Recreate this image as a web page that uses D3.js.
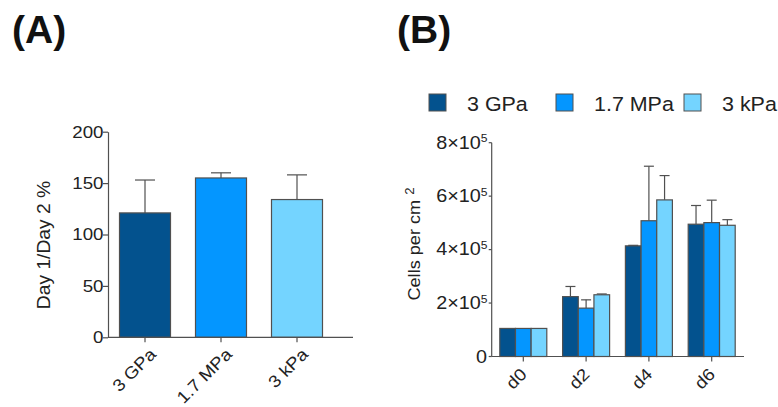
<!DOCTYPE html>
<html>
<head>
<meta charset="utf-8">
<script src="https://cdn.jsdelivr.net/npm/d3@7"></script>
<style>
  body { margin: 0; background: #fff; }
  text { font-family: "Liberation Sans", Arial, sans-serif; fill: #222; }
</style>
</head>
<body>
<div id="chart"></div>
<script>
// Panel A data
var stiffness = ["3 GPa", "1.7 MPa", "3 kPa"];
var ratioMean = [121, 155, 134];
var ratioErr = [153, 160, 158];
var ratioTicks = [0, 50, 100, 150, 200];

// Panel B data
var days = ["d0", "d2", "d4", "d6"];
var cells3GPa = [105000, 224000, 414000, 495000];
var cells17MPa = [105000, 181000, 508000, 501000];
var cells3kPa = [105000, 231000, 586000, 491000];
var err3GPa = [105000, 262000, 416000, 565000];
var err17MPa = [105000, 212000, 712000, 585000];
var err3kPa = [105000, 234000, 677000, 512000];
var cellTicks = [0, 200000, 400000, 600000, 800000];

var colors = ["#03528e", "#0496ff", "#74d4ff"];
var stroke = "#505050";
var WIDE = 1.1; // the original font is a bit wider than Arial

var svg = d3.select("#chart").append("svg")
    .attr("width", 778)
    .attr("height", 407);

// text helper: position, rotate, then widen glyphs in their own frame
function label(g, x, y, rot, size, anchor, txt) {
  return g.append("text")
      .attr("transform", "translate(" + x + "," + y + ") rotate(" + rot + ") scale(" + WIDE + ",1)")
      .attr("text-anchor", anchor)
      .style("font-size", size + "px")
      .text(txt);
}

// ---- Panel A ----
svg.append("text")
    .attr("x", 12).attr("y", 43)
    .style("font-size", "39px").style("font-weight", "bold").style("fill", "#111")
    .text("(A)");

var yA = d3.scaleLinear().domain([0, 200]).range([337.3, 131.7]);
var xA = d3.scalePoint().domain(stiffness).range([145, 297]);
var barA = 51;

var gA = svg.append("g");

gA.append("g")
    .attr("transform", "translate(108,0)")
    .call(d3.axisLeft(yA).tickValues(ratioTicks).tickSize(5).tickSizeOuter(0))
    .call(function(g) {
      g.selectAll("line, path").attr("stroke", stroke).attr("stroke-width", 1.2);
      g.selectAll("text")
          .style("font-size", "17px")
          .attr("fill", "#222")
          .attr("x", -4.5 / WIDE)
          .attr("transform", "scale(" + WIDE + ",1)");
    });

// error bars first, behind bars
stiffness.forEach(function(s, i) {
  var cx = xA(s);
  gA.append("line").attr("x1", cx).attr("x2", cx)
      .attr("y1", yA(ratioMean[i])).attr("y2", yA(ratioErr[i]))
      .attr("stroke", stroke).attr("stroke-width", 1.2);
  gA.append("line").attr("x1", cx - 10).attr("x2", cx + 10)
      .attr("y1", yA(ratioErr[i])).attr("y2", yA(ratioErr[i]))
      .attr("stroke", stroke).attr("stroke-width", 1.2);
});

gA.selectAll(".barA")
    .data(stiffness)
    .enter().append("rect")
    .attr("class", "barA")
    .attr("x", function(d) { return xA(d) - barA / 2; })
    .attr("y", function(d, i) { return yA(ratioMean[i]); })
    .attr("width", barA)
    .attr("height", function(d, i) { return yA(0) - yA(ratioMean[i]); })
    .attr("fill", function(d, i) { return colors[i]; })
    .attr("stroke", stroke).attr("stroke-width", 1.2);

// x axis A
gA.append("line").attr("x1", 108).attr("x2", 353)
    .attr("y1", yA(0)).attr("y2", yA(0))
    .attr("stroke", stroke).attr("stroke-width", 1.2);
stiffness.forEach(function(s) {
  gA.append("line").attr("x1", xA(s)).attr("x2", xA(s))
      .attr("y1", yA(0)).attr("y2", yA(0) + 5)
      .attr("stroke", stroke).attr("stroke-width", 1.2);
  label(gA, xA(s) + 12, yA(0) + 18, -45, 17, "end", s);
});

label(gA, 49.5, 245, -90, 17.5, "middle", "Day 1/Day 2 %");

// ---- Panel B ----
svg.append("text")
    .attr("x", 397).attr("y", 43)
    .style("font-size", "39px").style("font-weight", "bold").style("fill", "#111")
    .text("(B)");

var yB = d3.scaleLinear().domain([0, 800000]).range([356.5, 142.7]);
var xB = d3.scalePoint().domain(days).range([523.3, 711.7]);
var sub = d3.scaleBand().domain([0, 1, 2]).range([-23.5, 23.5]);

var gB = svg.append("g");

var series = [
  {name: "3 GPa", vals: cells3GPa, errs: err3GPa},
  {name: "1.7 MPa", vals: cells17MPa, errs: err17MPa},
  {name: "3 kPa", vals: cells3kPa, errs: err3kPa}
];

// y axis B
gB.append("line").attr("x1", 491.7).attr("x2", 491.7)
    .attr("y1", yB(800000)).attr("y2", yB(0))
    .attr("stroke", stroke).attr("stroke-width", 1.2);
cellTicks.forEach(function(t) {
  gB.append("line").attr("x1", 488.7).attr("x2", 491.7)
      .attr("y1", yB(t)).attr("y2", yB(t))
      .attr("stroke", stroke).attr("stroke-width", 1.2);
  if (t === 0) {
    label(gB, 487, yB(t) + 6.5, 0, 18, "end", "0");
  } else {
    var lab = label(gB, 487.5, yB(t) + 5.8, 0, 18, "end", null);
    lab.append("tspan").text((t / 100000) + "\u00d710");
    lab.append("tspan").attr("dy", "-0.55em").style("font-size", "11px").text("5");
  }
});

series.forEach(function(s, k) {
  days.forEach(function(d, i) {
    var cx = xB(d) + sub(k) + sub.bandwidth() / 2;
    if (s.errs[i] > s.vals[i]) {
      gB.append("line").attr("x1", cx).attr("x2", cx)
          .attr("y1", yB(s.vals[i])).attr("y2", yB(s.errs[i]))
          .attr("stroke", stroke).attr("stroke-width", 1.2);
      gB.append("line").attr("x1", cx - 5).attr("x2", cx + 5)
          .attr("y1", yB(s.errs[i])).attr("y2", yB(s.errs[i]))
          .attr("stroke", stroke).attr("stroke-width", 1.2);
    }
  });
});

series.forEach(function(s, k) {
  gB.selectAll(".barB" + k)
      .data(days)
      .enter().append("rect")
      .attr("class", "barB" + k)
      .attr("x", function(d) { return xB(d) + sub(k); })
      .attr("y", function(d, i) { return yB(s.vals[i]); })
      .attr("width", sub.bandwidth())
      .attr("height", function(d, i) { return yB(0) - yB(s.vals[i]); })
      .attr("fill", colors[k])
      .attr("stroke", stroke).attr("stroke-width", 1.2);
});

// x axis B
gB.append("line").attr("x1", 491.7).attr("x2", 744)
    .attr("y1", yB(0)).attr("y2", yB(0))
    .attr("stroke", stroke).attr("stroke-width", 1.2);
days.forEach(function(d) {
  gB.append("line").attr("x1", xB(d)).attr("x2", xB(d))
      .attr("y1", yB(0)).attr("y2", yB(0) + 5)
      .attr("stroke", stroke).attr("stroke-width", 1.2);
  label(gB, xB(d) + 4.5, yB(0) + 19, -45, 17, "end", d);
});

var yLabB = label(gB, 420, 244, -90, 16.5, "middle", null);
yLabB.append("tspan").text("Cells per cm ");
yLabB.append("tspan").attr("dy", "-0.5em").style("font-size", "12px").text("2");

// legend
var legX = [429, 556, 684];
series.forEach(function(s, k) {
  gB.append("rect")
      .attr("x", legX[k]).attr("y", 94)
      .attr("width", 17).attr("height", 17)
      .attr("fill", colors[k])
      .attr("stroke", stroke).attr("stroke-width", 1);
  label(gB, legX[k] + 38, 111, 0, 19.5, "start", s.name);
});
</script>
</body>
</html>
